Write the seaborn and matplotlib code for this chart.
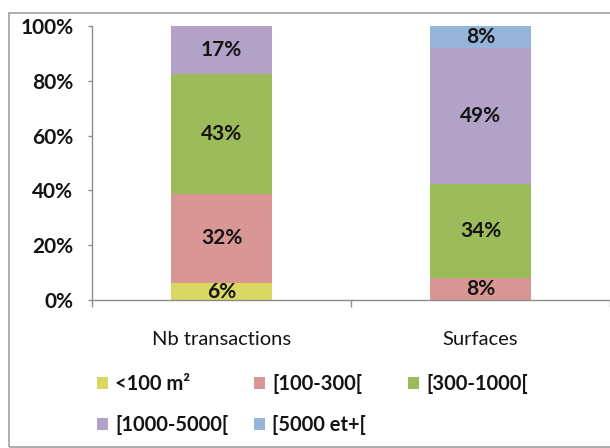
import matplotlib
matplotlib.use("Agg")
import matplotlib.pyplot as plt
from matplotlib.patches import Patch, Rectangle
import numpy as np
import pandas as pd
import seaborn as sns

# Share (%) of each surface band, per measure
categories = ["Nb transactions", "Surfaces"]
bands = ["<100 m²", "[100-300[", "[300-1000[", "[1000-5000[", "[5000 et+["]
nb_transactions = [6, 32, 43, 17, 0]
surfaces = [0, 8, 34, 49, 8]
colors = ["#D8D862", "#DA9695", "#9CBB5A", "#B3A2C8", "#96B4D8"]

rows = []
for cat, vals in zip(categories, [nb_transactions, surfaces]):
    for band, v in zip(bands, vals):
        rows.append({"categorie": cat, "tranche": band, "part": v})
df = pd.DataFrame(rows)

sns.set_theme(style="white")
plt.rcParams["font.family"] = ["Lato", "DejaVu Sans"]

fig = plt.figure(figsize=(6.10, 4.48), dpi=100)
ax = fig.add_axes([92 / 610, 1 - 300 / 448, 518 / 610, 274 / 448])

# seaborn stacks the first hue level on top, so feed the bands in reverse
sns.histplot(
    data=df, x="categorie", hue="tranche", weights="part",
    hue_order=bands[::-1], palette=colors[::-1],
    multiple="fill", discrete=True, shrink=0.393,
    linewidth=0, alpha=1, legend=False, ax=ax,
)

# Value labels at the middle of each segment (100 % stacked)
for i, vals in enumerate([nb_transactions, surfaces]):
    vals = np.array(vals, dtype=float)
    frac = vals / vals.sum()
    bottoms = np.concatenate([[0], np.cumsum(frac)[:-1]])
    for v, b, f in zip(vals, bottoms, frac):
        if v > 0:
            ax.text(i, b + f / 2, f"{v:.0f}%", ha="center", va="center",
                    fontsize=15, fontweight="bold", color="#141414")

ax.set_xlim(-0.5, -0.5 + 518 / 262)
ax.set_ylim(0, 1)
ax.set_yticks(np.linspace(0, 1, 6))
ax.set_yticklabels([f"{int(t)}%" for t in range(0, 101, 20)],
                   fontsize=15, fontweight="bold", color="#141414")
ax.set_xticks([0, 1])
ax.set_xticklabels(categories, fontsize=14.5, color="#141414")
ax.set_xlabel("")
ax.set_ylabel("")

for side in ["top", "right"]:
    ax.spines[side].set_visible(False)
for side in ["left", "bottom"]:
    ax.spines[side].set_color("#8C8C8C")
    ax.spines[side].set_linewidth(1.0)

# y ticks point outward; x ticks mark category boundaries
ax.tick_params(axis="y", which="major", left=True, length=3, width=1,
               color="#8C8C8C", pad=10.5)
ax.tick_params(axis="x", which="major", bottom=False, pad=16.5)
ax.set_xticks([-0.5, 0.5, 1.5], minor=True)
ax.tick_params(axis="x", which="minor", bottom=True, length=5, width=1,
               color="#8C8C8C")

# Legend below the axis: three columns, filled row by row
handles = [Patch(facecolor=c, edgecolor="none") for c in colors]
columns = [([0, 3], 97), ([1, 4], 254), ([2], 408)]
for idx, xpix in columns:
    leg = fig.legend([handles[k] for k in idx], [bands[k] for k in idx],
                     loc="upper left", bbox_to_anchor=(xpix / 610, 1 - 374 / 448),
                     frameon=False, borderpad=0, borderaxespad=0,
                     prop={"weight": "bold", "size": 14.5},
                     handlelength=0.55, handleheight=0.55, handletextpad=0.35,
                     labelspacing=1.05)
    for t in leg.get_texts():
        t.set_color("#141414")

# Chart frame
fig.patches.append(Rectangle((9 / 610, 1 - 447 / 448), 620 / 610, 434 / 448,
                             transform=fig.transFigure, fill=False,
                             edgecolor="#A0A0A0", linewidth=1.2))

fig.savefig("out.png", dpi=100)
